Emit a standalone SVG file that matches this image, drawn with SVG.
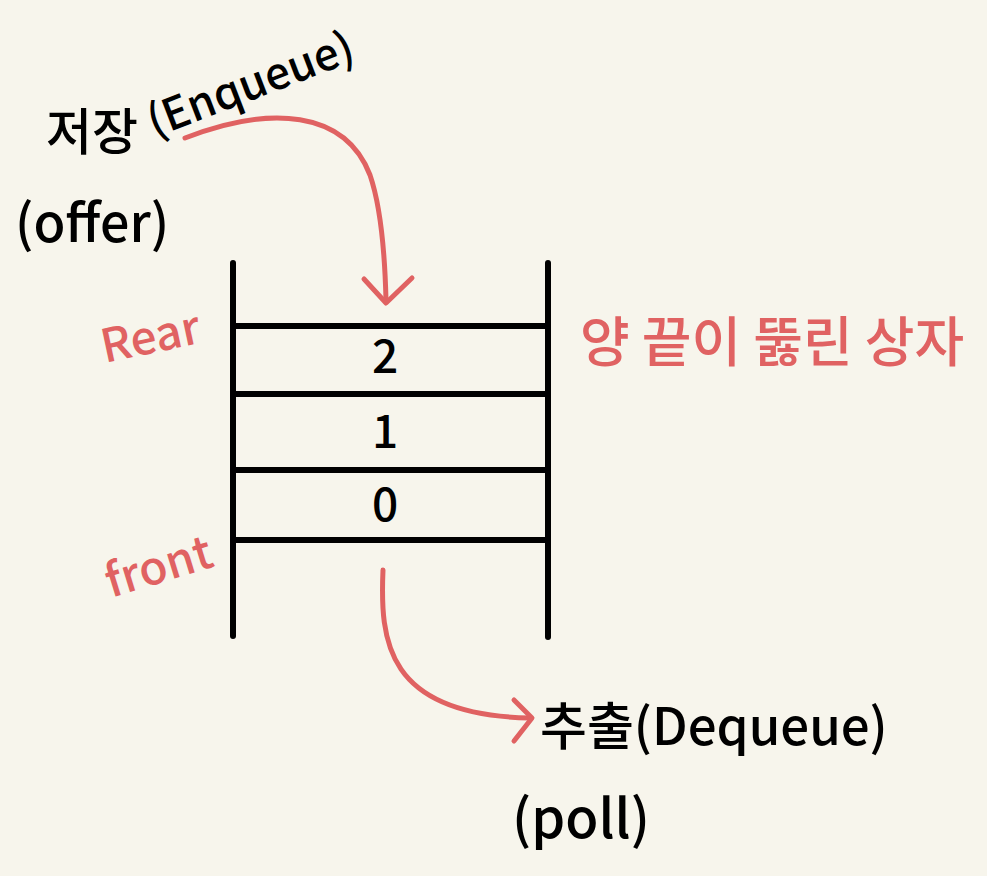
<svg xmlns="http://www.w3.org/2000/svg" width="987" height="876" viewBox="0 0 987 876">
<style>
.ln{stroke:#000;stroke-width:6;stroke-linecap:round;fill:none}
.rd{stroke:#E06262;stroke-width:5;stroke-linecap:round;stroke-linejoin:round;fill:none}
.tk{font-family:"Noto Sans CJK KR","Noto Sans",sans-serif;fill:#000;font-weight:500}
.tr{font-family:"Noto Sans CJK KR","Noto Sans",sans-serif;fill:#E06262;font-weight:500}
</style>
<rect width="987" height="876" fill="#F7F5EC"/>
<g id="box">
<line class="ln" x1="233" y1="263" x2="233" y2="636"/>
<line class="ln" x1="548" y1="263" x2="548" y2="637"/>
<line class="ln" x1="233" y1="326" x2="548" y2="326"/>
<line class="ln" x1="233" y1="394" x2="548" y2="394"/>
<line class="ln" x1="233" y1="470" x2="548" y2="470"/>
<line class="ln" x1="233" y1="540" x2="548" y2="540"/>
</g>
<g id="cell2"><text class="tk" x="385" y="373" font-size="46" text-anchor="middle">2</text></g>
<g id="cell1"><text class="tk" x="385" y="448" font-size="46" text-anchor="middle">1</text></g>
<g id="cell0"><text class="tk" x="385" y="521" font-size="46" text-anchor="middle">0</text></g>
<g id="rear"><text class="tr" x="100" y="352" font-size="46" transform="rotate(-12 155 335)">Rear</text></g>
<g id="front"><text class="tr" x="102" y="582" font-size="46" transform="rotate(-17 160 560)">front</text></g>
<g id="caption"><text class="tr" x="580" y="362" font-size="54">양 끝이 뚫린 상자</text></g>
<g id="enqueue">
<text class="tk" x="46" y="150" font-size="50">저장</text>
<text class="tk" x="152" y="138" font-size="44" transform="rotate(-21 152 131)">(Enqueue)</text>
<text class="tk" x="15" y="242" font-size="52">(offer)</text>
</g>
<g id="dequeue">
<text class="tk" x="540" y="745" font-size="51">추출(Dequeue)</text>
<text class="tk" x="512" y="838" font-size="54">(poll)</text>
</g>
<g id="connectors">
<path class="rd" d="M185,138 C270,105 345,110 370,175 C382,210 385,260 386,300"/>
<path class="rd" d="M364,279 L386,303 L412,278"/>
<path class="rd" d="M383,570 C380,640 385,715 530,718"/>
<path class="rd" d="M514,700 L532,718 L514,741"/>
</g>
</svg>
